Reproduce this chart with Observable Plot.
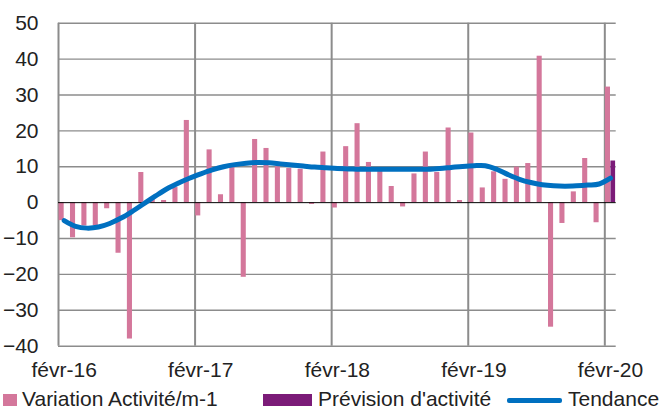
<!DOCTYPE html>
<html><head><meta charset="utf-8">
<script src="https://cdn.jsdelivr.net/npm/d3@7"></script>
<script src="https://cdn.jsdelivr.net/npm/@observablehq/plot@0.6"></script>
<style>
body{margin:0;background:#fff;font-family:"Liberation Sans",Arial,sans-serif;}
#wrap{position:relative;width:670px;height:410px;overflow:hidden;}
#chart svg{display:block;}
.lg{position:absolute;font-size:21px;color:#222;white-space:nowrap;line-height:21px;}
.sw{position:absolute;}
</style></head><body>
<div id="wrap"><div id="chart"></div>
<div class="sw" style="left:3px;top:394px;width:14px;height:12px;background:#D4779B"></div>
<div class="lg" style="left:22px;top:388px">Variation Activité/m-1</div>
<div class="sw" style="left:263px;top:394px;width:49px;height:12px;background:#7B1B78"></div>
<div class="lg" style="left:318px;top:388px">Prévision d'activité</div>
<div class="sw" style="left:507px;top:398px;width:55px;height:5px;background:#0070C0;border-radius:2px"></div>
<div class="lg" style="left:568px;top:388px">Tendance</div>
</div>
<script>
const months = ["févr-16","mars-16","avr-16","mai-16","juin-16","juil-16","août-16","sept-16","oct-16","nov-16","déc-16","janv-17",
"févr-17","mars-17","avr-17","mai-17","juin-17","juil-17","août-17","sept-17","oct-17","nov-17","déc-17","janv-18",
"févr-18","mars-18","avr-18","mai-18","juin-18","juil-18","août-18","sept-18","oct-18","nov-18","déc-18","janv-19",
"févr-19","mars-19","avr-19","mai-19","juin-19","juil-19","août-19","sept-19","oct-19","nov-19","déc-19","janv-20",
"févr-20"];
const variation = [-5,-9.8,-6.5,-6.5,-1.7,-14.1,-38,8.4,1.2,0.6,4.2,22.9,
-3.7,14.7,2.2,10.0,-20.8,17.6,15.1,10,9.5,9.3,-0.5,14.1,
-1.5,15.6,22.0,11.2,8.8,4.5,-1.2,8.0,14.1,8.4,20.8,0.6,
19.4,4.1,8.6,6.5,9.9,10.9,40.8,-34.7,-5.8,3.0,12.3,-5.6,
32.2];
const previsionMonths = ["févr-20"];
const prevision = [11.6];
const tendance = [-5.0,-6.6,-7.1,-6.8,-5.8,-4.3,-2.4,-0.3,1.8,3.8,5.4,6.8,
8.0,9.1,10.0,10.6,11.0,11.2,11.1,10.8,10.5,10.2,9.9,9.7,
9.5,9.4,9.3,9.3,9.3,9.3,9.3,9.3,9.3,9.5,9.8,10.1,
10.3,10.3,9.3,7.8,6.5,5.6,5.0,4.7,4.6,4.7,4.9,5.2,
6.8];
const tickLabels = ["févr-16","févr-17","févr-18","févr-19","févr-20"];
const yTicks = [-40,-30,-20,-10,0,10,20,30,40,50];

const W = 670, H = 388, ML = 58, MR = 54.3, MT = 22.7, MB = H - 345.7;
const bw = (W - ML - MR) / months.length;

const varData = months.map((m, i) => ({m, v: variation[i]}));
const prevData = previsionMonths.map((m, i) => ({m, v: prevision[i]}));
const trendData = months.map((m, i) => ({m, v: tendance[i]}));

const chart = Plot.plot({
  width: W, height: H,
  marginLeft: ML, marginRight: MR, marginTop: MT, marginBottom: MB,
  style: {fontFamily: "Liberation Sans, Arial, sans-serif", fontSize: "21px", color: "#222", background: "white", overflow: "visible"},
  x: {type: "band", domain: months, padding: 0, round: false},
  y: {domain: [-40, 50]},
  marks: [
    Plot.ruleY(yTicks.filter(d => d !== 0), {stroke: "#8c8c8c", strokeWidth: 1.4}),
    Plot.ruleX(tickLabels, {x: d => d, dx: -bw / 2, stroke: "#8c8c8c", strokeWidth: 2}),
    Plot.barY(varData, {x: "m", y: "v", fill: "#D4779B", insetLeft: 0.6, insetRight: 5.7}),
    Plot.barY(prevData, {x: "m", y: "v", fill: "#7B1B78", insetLeft: 6.1, insetRight: 0.6}),
    Plot.ruleY([0], {stroke: "#000", strokeWidth: 1}),
    Plot.line(trendData, {x: "m", y: "v", stroke: "#0070C0", strokeWidth: 5, curve: "catmull-rom", strokeLinecap: "round"}),
    Plot.axisY({ticks: yTicks, tickSize: 0, tickPadding: 20, label: null, fontSize: 21}),
    Plot.axisX({ticks: tickLabels, tickSize: 0, tickPadding: 16, label: null, fontSize: 21})
  ]
});
document.getElementById("chart").appendChild(chart);
</script>
</body></html>
